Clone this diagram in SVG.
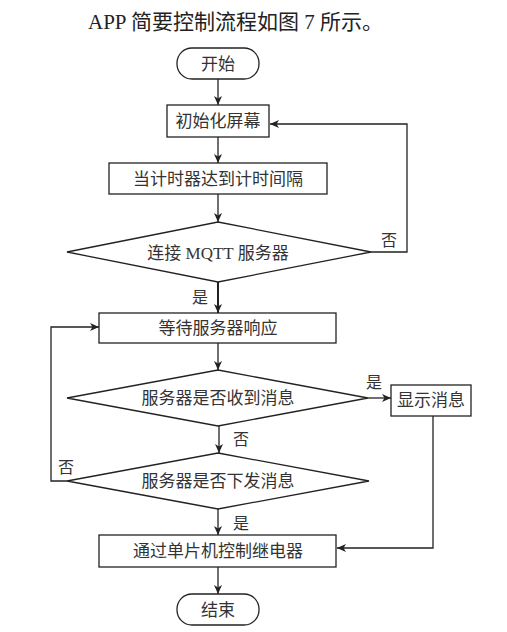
<svg xmlns="http://www.w3.org/2000/svg" width="507" height="632" viewBox="0 0 507 632">
<defs>
<marker id="ah" markerWidth="10" markerHeight="8" refX="9" refY="4" orient="auto" markerUnits="userSpaceOnUse">
<path d="M0,0 L9,4 L0,8 L2.5,4 Z" fill="#222"/>
</marker>
</defs>
<style>
.s{fill:#fff;stroke:#222;stroke-width:1.3}
.c{fill:none;stroke:#222;stroke-width:1.3}
.t{font-family:"Liberation Serif","Noto Sans CJK SC",serif;font-size:17px;fill:#333;text-anchor:middle;dominant-baseline:central}
.l{font-family:"Liberation Serif","Noto Sans CJK SC",serif;font-size:16px;fill:#333;text-anchor:middle;dominant-baseline:central}
</style>
<rect width="507" height="632" fill="#fff"/>
<text x="88" y="29" style="font-family:'Liberation Serif','Noto Sans CJK SC',serif;font-size:21px;fill:#222">APP 简要控制流程如图 7 所示。</text>
<g id="connectors">
<line class="c" x1="218" y1="79" x2="218" y2="105" marker-end="url(#ah)"/>
<line class="c" x1="218" y1="137" x2="218" y2="163" marker-end="url(#ah)"/>
<line class="c" x1="218" y1="194" x2="218" y2="222" marker-end="url(#ah)"/>
<polyline class="c" points="371,252 407,252 407,124 270,124" marker-end="url(#ah)"/>
<line class="c" x1="218" y1="282" x2="218" y2="313" style="stroke-width:2" marker-end="url(#ah)"/>
<line class="c" x1="218" y1="343" x2="218" y2="370" marker-end="url(#ah)"/>
<line class="c" x1="368" y1="398" x2="391" y2="398" marker-end="url(#ah)"/>
<line class="c" x1="219" y1="426" x2="219" y2="453" marker-end="url(#ah)"/>
<polyline class="c" points="67,481 51,481 51,327 99,327" marker-end="url(#ah)"/>
<polyline class="c" points="433,416 433,548 337,548" marker-end="url(#ah)"/>
<line class="c" x1="218" y1="509" x2="218" y2="535" marker-end="url(#ah)"/>
<line class="c" x1="218" y1="567" x2="218" y2="594" marker-end="url(#ah)"/>
<text class="l" x="389" y="240">否</text>
<text class="l" x="200" y="297">是</text>
<text class="l" x="374" y="382">是</text>
<text class="l" x="241" y="439">否</text>
<text class="l" x="66" y="467">否</text>
<text class="l" x="241" y="523">是</text>
</g>
<g id="start"><rect class="s" x="177" y="48" width="82" height="31" rx="15"/><text class="t" x="218" y="64">开始</text></g>
<g id="init"><rect class="s" x="167" y="105" width="102" height="32"/><text class="t" x="218" y="121">初始化屏幕</text></g>
<g id="timer"><rect class="s" x="109" y="163" width="218" height="31"/><text class="t" x="218" y="179">当计时器达到计时间隔</text></g>
<g id="connect"><polygon class="s" points="218,222 371,252 218,282 67,252"/><text class="t" x="218" y="253">连接 MQTT 服务器</text></g>
<g id="wait"><rect class="s" x="99" y="313" width="237" height="30"/><text class="t" x="218" y="328">等待服务器响应</text></g>
<g id="recv"><polygon class="s" points="218,370 368,398 218,426 67,398"/><text class="t" x="218" y="398">服务器是否收到消息</text></g>
<g id="show"><rect class="s" x="391" y="385" width="80" height="31"/><text class="t" x="431" y="400">显示消息</text></g>
<g id="send"><polygon class="s" points="218,453 369,481 218,509 67,481"/><text class="t" x="218" y="481">服务器是否下发消息</text></g>
<g id="relay"><rect class="s" x="99" y="535" width="237" height="32"/><text class="t" x="218" y="551">通过单片机控制继电器</text></g>
<g id="end"><rect class="s" x="177" y="594" width="82" height="31" rx="15"/><text class="t" x="218" y="610">结束</text></g>
</svg>
